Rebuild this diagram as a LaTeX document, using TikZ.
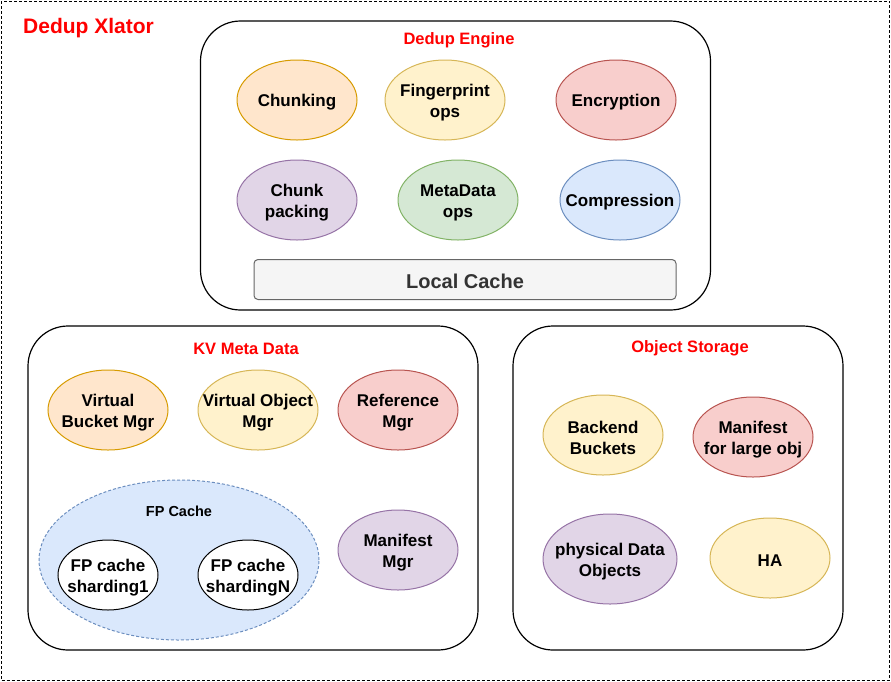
\documentclass[tikz,border=0pt]{standalone}
\usepackage{fontspec}
\setmainfont{Liberation Sans}
\usetikzlibrary{shapes.geometric}
\definecolor{orF}{HTML}{FFE6CC}\definecolor{orD}{HTML}{D79B00}
\definecolor{yeF}{HTML}{FFF2CC}\definecolor{yeD}{HTML}{D6B656}
\definecolor{reF}{HTML}{F8CECC}\definecolor{reD}{HTML}{B85450}
\definecolor{puF}{HTML}{E1D5E7}\definecolor{puD}{HTML}{9673A6}
\definecolor{grF}{HTML}{D5E8D4}\definecolor{grD}{HTML}{82B366}
\definecolor{blF}{HTML}{DAE8FC}\definecolor{blD}{HTML}{6C8EBF}
\definecolor{gyF}{HTML}{F5F5F5}\definecolor{gyD}{HTML}{666666}\definecolor{gyT}{HTML}{333333}
\definecolor{titleRed}{HTML}{FF0000}
\begin{document}
\begin{tikzpicture}[x=1pt,y=-1pt,
  container/.style={draw=black, line width=1.2pt, rounded corners=40pt, inner sep=0pt},
  ell/.style={ellipse, line width=1pt, inner sep=0pt, minimum width=120pt, minimum height=80pt},
  lbl/.style={font=\bfseries\fontsize{17}{21}\selectfont, align=center, text=black, inner sep=0pt, yshift=-2.5pt},
  ttl/.style={font=\bfseries\fontsize{16.5}{20}\selectfont, text=titleRed, inner sep=0pt, yshift=-1.5pt},
  orange/.style={ell, fill=orF, draw=orD},
  yellow/.style={ell, fill=yeF, draw=yeD},
  red/.style={ell, fill=reF, draw=reD},
  purple/.style={ell, fill=puF, draw=puD},
  green/.style={ell, fill=grF, draw=grD},
  blue/.style={ell, fill=blF, draw=blD},
]
\useasboundingbox (0,0) rectangle (891,681);
% outer dashed frame
\node[draw=black, line width=1pt, dash pattern=on 3pt off 2pt, inner sep=0pt,
      minimum width=888pt, minimum height=679pt] (xlator) at (445.5,340.5) {};
\node[font=\bfseries\fontsize{21}{25}\selectfont, text=titleRed, anchor=west, inner sep=0pt] (xlatorT) at (23,28) {Dedup Xlator};

% Dedup Engine
\node[container, minimum width=510pt, minimum height=289pt] (engine) at (455.5,165.5) {};
\node[ttl] (engineT) at (459,39) {Dedup Engine};
\node[orange, label={[lbl]center:Chunking}] (chunking) at (297,100) {};
\node[yellow, label={[lbl]center:Fingerprint\\ops}] (fp) at (445,100) {};
\node[red, label={[lbl]center:Encryption}] (enc) at (616,100) {};
\node[purple, label={[lbl]center:Chunk\\packing}] (cpack) at (297,200) {};
\node[green, label={[lbl]center:MetaData\\ops}] (mdops) at (458,200) {};
\node[blue, label={[lbl]center:Compression}] (comp) at (620,200) {};
\node[draw=gyD, fill=gyF, line width=1pt, rounded corners=4pt, minimum width=422pt, minimum height=40pt,
      inner sep=0pt, text=gyT, font=\bfseries\fontsize{20}{24}\selectfont,
      label={[text=gyT, font=\bfseries\fontsize{20}{24}\selectfont, inner sep=0pt, yshift=-2pt]center:Local Cache}] (lcache) at (465,279.5) {};

% KV Meta Data
\node[container, minimum width=450pt, minimum height=324pt] (kv) at (253,488) {};
\node[ttl] (kvT) at (246,347) {KV Meta Data};
\node[orange, label={[lbl]center:Virtual\\Bucket Mgr}] (vbm) at (108,410) {};
\node[yellow, label={[lbl]center:Virtual Object\\Mgr}] (vom) at (258,410) {};
\node[red, label={[lbl]center:Reference\\Mgr}] (refm) at (398,410) {};
\node[ellipse, fill=blF, draw=blD, line width=1pt, dash pattern=on 3pt off 2pt, inner sep=0pt,
      minimum width=280pt, minimum height=160pt] (fpcache) at (179,560) {};
\node[font=\bfseries\fontsize{14.5}{18}\selectfont, inner sep=0pt, yshift=-1pt] (fpcacheT) at (179,510) {FP Cache};
\node[ellipse, fill=white, draw=black, line width=1pt, inner sep=0pt, minimum width=100pt, minimum height=70pt,
      label={[lbl]center:FP cache\\sharding1}] (shard1) at (108,575) {};
\node[ellipse, fill=white, draw=black, line width=1pt, inner sep=0pt, minimum width=100pt, minimum height=70pt,
      label={[lbl]center:FP cache\\shardingN}] (shardN) at (248,575) {};
\node[purple, label={[lbl]center:Manifest\\Mgr}] (manm) at (398,550) {};

% Object Storage
\node[container, minimum width=330pt, minimum height=324pt] (obj) at (678,488) {};
\node[ttl] (objT) at (690,347) {Object Storage};
\node[yellow, label={[lbl]center:Backend\\Buckets}] (bb) at (603,435) {};
\node[red, label={[lbl]center:Manifest\\for large obj}] (mlo) at (753,437) {};
\node[purple, minimum width=134pt, minimum height=90pt, label={[lbl]center:physical Data\\Objects}] (pdo) at (610,559) {};
\node[yellow, label={[lbl]center:HA}] (ha) at (770,558) {};
\end{tikzpicture}
\end{document}
